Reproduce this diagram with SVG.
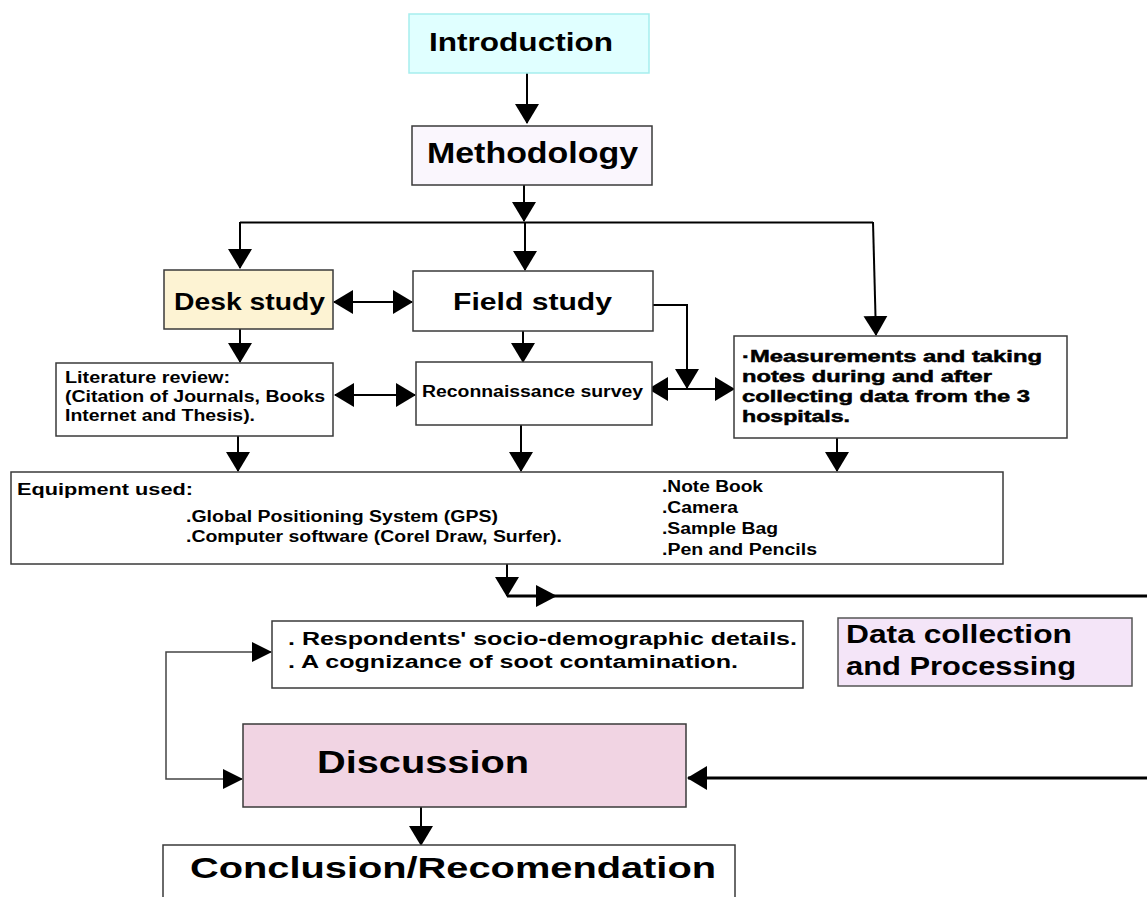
<svg xmlns="http://www.w3.org/2000/svg" width="1147" height="897" viewBox="0 0 1147 897">
<defs>
<marker id="ah" viewBox="0 0 20 24" markerWidth="20" markerHeight="24" refX="19" refY="12" orient="auto-start-reverse" markerUnits="userSpaceOnUse"><path d="M0,0 L20,12 L0,24 z" fill="#000"/></marker>
<marker id="ahs" viewBox="0 0 20 20" markerWidth="20" markerHeight="20" refX="19" refY="10" orient="auto-start-reverse" markerUnits="userSpaceOnUse"><path d="M0,0 L20,10 L0,20 z" fill="#000"/></marker>
<style>
.box{stroke:#3a3a3a;stroke-width:1.5;fill:#fff}
.t{font-family:"Liberation Sans",Arial,sans-serif;font-weight:bold;fill:#000}
.heavy{stroke:#000;stroke-width:0.5}
.ln{fill:none;stroke:#000;stroke-width:2}
.thick{fill:none;stroke:#000;stroke-width:3}
.thin{fill:none;stroke:#444;stroke-width:1.5}
</style>
</defs>
<rect width="1147" height="897" fill="#fff"/>

<g id="connectors">
<path class="ln" d="M527,73 V123" marker-end="url(#ah)"/>
<path class="ln" d="M524,185 V221" marker-end="url(#ah)"/>
<path class="ln" d="M240,222.5 H873"/>
<path class="ln" d="M240,222 V268" marker-end="url(#ah)"/>
<path class="ln" d="M525,222 V270" marker-end="url(#ah)"/>
<path class="ln" d="M873,222 L876,335" marker-end="url(#ah)"/>
<path class="ln" d="M334,302 H412" marker-start="url(#ah)" marker-end="url(#ah)"/>
<path class="ln" d="M653,305 H687 V388" marker-end="url(#ah)"/>
<path class="ln" d="M649,389 H734" marker-start="url(#ah)" marker-end="url(#ah)"/>
<path class="ln" d="M240,329 V362" marker-end="url(#ah)"/>
<path class="ln" d="M523,331 V362" marker-end="url(#ah)"/>
<path class="ln" d="M335,395 H415" marker-start="url(#ah)" marker-end="url(#ah)"/>
<path class="ln" d="M238,436 V471" marker-end="url(#ah)"/>
<path class="ln" d="M521,425 V471" marker-end="url(#ah)"/>
<path class="ln" d="M837,438 V471" marker-end="url(#ah)"/>
<path class="ln" d="M507,564 V596" marker-end="url(#ah)"/>
<path class="thick" d="M507,596 H1147"/>
<polygon points="536,585 557,596 536,607" fill="#000"/>
<path class="thin" d="M271,652 H166 V779 H242" marker-start="url(#ahs)" marker-end="url(#ahs)"/>
<path class="ln" d="M421,807 V845" marker-end="url(#ah)"/>
<path class="thick" d="M1147,778 H688" marker-end="url(#ah)"/>
</g>

<g id="introduction">
<rect x="409" y="14" width="240" height="59" fill="#e0ffff" stroke="#a6eeee" stroke-width="1.5"/>
<text class="t" x="429" y="51" font-size="26" textLength="184" lengthAdjust="spacingAndGlyphs">Introduction</text>
</g>

<g id="methodology">
<rect x="412" y="126" width="240" height="59" fill="#faf6fd" stroke="#3a3a3a" stroke-width="1.5"/>
<text class="t" x="427" y="163" font-size="30" textLength="211" lengthAdjust="spacingAndGlyphs">Methodology</text>
</g>

<g id="desk-study">
<rect x="164" y="270" width="169" height="59" fill="#fdf3d3" stroke="#3a3a3a" stroke-width="1.5"/>
<text class="t" x="174" y="310" font-size="24" textLength="151" lengthAdjust="spacingAndGlyphs">Desk study</text>
</g>

<g id="field-study">
<rect class="box" x="413" y="271" width="240" height="60"/>
<text class="t" x="453" y="310" font-size="24" textLength="159" lengthAdjust="spacingAndGlyphs">Field study</text>
</g>

<g id="measurements">
<rect class="box" x="734" y="336" width="333" height="102"/>
<text class="t heavy" x="742" y="362" font-size="17" textLength="300" lengthAdjust="spacingAndGlyphs">·Measurements and taking</text>
<text class="t heavy" x="742" y="382" font-size="17" textLength="250" lengthAdjust="spacingAndGlyphs">notes during and after</text>
<text class="t heavy" x="742" y="402" font-size="17" textLength="288" lengthAdjust="spacingAndGlyphs">collecting data from the 3</text>
<text class="t heavy" x="742" y="422" font-size="17" textLength="108" lengthAdjust="spacingAndGlyphs">hospitals.</text>
</g>

<g id="literature-review">
<rect class="box" x="56" y="363" width="277" height="73"/>
<text class="t" x="65" y="383" font-size="16" textLength="165" lengthAdjust="spacingAndGlyphs">Literature review:</text>
<text class="t" x="65" y="402" font-size="16" textLength="260" lengthAdjust="spacingAndGlyphs">(Citation of Journals, Books</text>
<text class="t" x="65" y="421" font-size="16" textLength="190" lengthAdjust="spacingAndGlyphs">Internet and Thesis).</text>
</g>

<g id="reconnaissance">
<rect class="box" x="416" y="362" width="236" height="63"/>
<text class="t" x="422" y="397" font-size="16" textLength="221" lengthAdjust="spacingAndGlyphs">Reconnaissance survey</text>
</g>

<g id="equipment">
<rect class="box" x="11" y="472" width="992" height="92"/>
<text class="t" x="17" y="495" font-size="17" textLength="176" lengthAdjust="spacingAndGlyphs">Equipment used:</text>
<text class="t" x="186" y="522" font-size="16" textLength="312" lengthAdjust="spacingAndGlyphs">.Global Positioning System (GPS)</text>
<text class="t" x="186" y="542" font-size="16" textLength="376" lengthAdjust="spacingAndGlyphs">.Computer software (Corel Draw, Surfer).</text>
<text class="t" x="662" y="492" font-size="16" textLength="101" lengthAdjust="spacingAndGlyphs">.Note Book</text>
<text class="t" x="662" y="513" font-size="16" textLength="76" lengthAdjust="spacingAndGlyphs">.Camera</text>
<text class="t" x="662" y="534" font-size="16" textLength="116" lengthAdjust="spacingAndGlyphs">.Sample Bag</text>
<text class="t" x="662" y="555" font-size="16" textLength="155" lengthAdjust="spacingAndGlyphs">.Pen and Pencils</text>
</g>

<g id="respondents">
<rect class="box" x="272" y="621" width="531" height="67"/>
<text class="t" x="288" y="645" font-size="18" textLength="509" lengthAdjust="spacingAndGlyphs">. Respondents' socio-demographic details.</text>
<text class="t" x="288" y="668" font-size="18" textLength="450" lengthAdjust="spacingAndGlyphs">. A cognizance of soot contamination.</text>
</g>

<g id="data-collection">
<rect x="838" y="618" width="294" height="68" fill="#f4e5f8" stroke="#555" stroke-width="1.5"/>
<text class="t" x="846" y="643" font-size="25" textLength="226" lengthAdjust="spacingAndGlyphs">Data collection</text>
<text class="t" x="846" y="675" font-size="25" textLength="230" lengthAdjust="spacingAndGlyphs">and Processing</text>
</g>

<g id="discussion">
<rect x="243" y="724" width="443" height="83" fill="#f1d4e3" stroke="#3a3a3a" stroke-width="1.5"/>
<text class="t" x="317" y="773" font-size="32" textLength="212" lengthAdjust="spacingAndGlyphs">Discussion</text>
</g>

<g id="conclusion">
<path d="M163,900 V845 H735 V900" fill="#fff" stroke="#3a3a3a" stroke-width="1.5"/>
<text class="t" x="190" y="878" font-size="30" textLength="526" lengthAdjust="spacingAndGlyphs">Conclusion/Recomendation</text>
</g>
</svg>
